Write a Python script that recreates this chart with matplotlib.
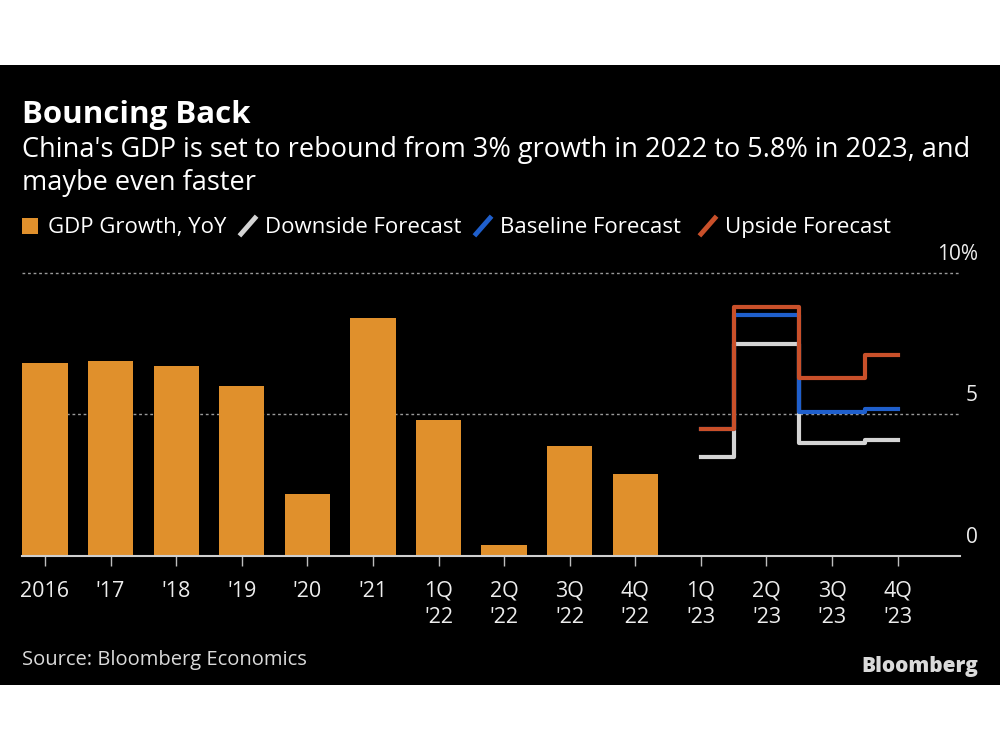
import matplotlib
matplotlib.use("Agg")
import matplotlib.pyplot as plt
from matplotlib import font_manager
from matplotlib.patches import Rectangle
from matplotlib.lines import Line2D

# pick a narrow font if there is one
names = {f.name for f in font_manager.fontManager.ttflist}
font = 'DejaVu Sans'
for cand in ['Liberation Sans Narrow', 'DejaVu Sans Condensed', 'Open Sans']:
    if cand in names:
        font = cand
        break
plt.rcParams['font.family'] = [font, 'DejaVu Sans']

# data
labels = ['2016', "'17", "'18", "'19", "'20", "'21",
          "1Q\n'22", "2Q\n'22", "3Q\n'22", "4Q\n'22",
          "1Q\n'23", "2Q\n'23", "3Q\n'23", "4Q\n'23"]
gdp = [6.8, 6.9, 6.7, 6.0, 2.2, 8.4, 4.8, 0.4, 3.9, 2.9]
fc_pos = [10, 11, 12, 13]
downside = [3.5, 7.5, 4.0, 4.1]
baseline = [4.5, 8.5, 5.1, 5.2]
upside = [4.5, 8.8, 6.3, 7.1]
yticks = [0, 5, 10]
ylabels = ['0', '5', '10%']

bar_col = '#E0902C'
down_col = '#D4D4D4'
base_col = '#1F5FCC'
up_col = '#C9502A'
txt = '#FFFFFF'

fig = plt.figure(figsize=(10, 7.5), dpi=100)
fig.patch.set_facecolor('white')
fig.patches.append(Rectangle((0, 1 - 685 / 750), 1, 620 / 750, transform=fig.transFigure,
                             facecolor='black', edgecolor='none', zorder=-10))

ax = fig.add_axes([0.022, 1 - 556 / 750, 0.938, 293 / 750])
ax.set_facecolor('none')

ax.bar(range(len(gdp)), gdp, width=0.69, color=bar_col, zorder=2)
ax.step(fc_pos, downside, where='mid', color=down_col, lw=3, zorder=3)
ax.step(fc_pos, baseline, where='mid', color=base_col, lw=3, zorder=4)
ax.step(fc_pos, upside, where='mid', color=up_col, lw=3, zorder=5)

ax.set_xlim(-0.35, 13.95)
ax.set_ylim(0, 10.35)
for s in ax.spines.values():
    s.set_visible(False)
for v in yticks[1:]:
    ax.axhline(v, color='#9A9A9A', lw=1, ls=(0, (2, 2)), zorder=1)
ax.axhline(0, color='#CFCFCF', lw=1.5, zorder=6, clip_on=False)

ax.set_yticks([])
ax.set_xticks(range(len(labels)))
ax.set_xticklabels(labels, fontsize=15.5, color='#EDEDED', linespacing=1.3, va='top')
ax.tick_params(axis='x', length=7, width=1, color='#BDBDBD', pad=11)

for v, lab in zip(yticks, ylabels):
    ax.annotate(lab, xy=(1, v), xycoords=('axes fraction', 'data'), xytext=(13, 6),
                textcoords='offset points', ha='right', va='bottom', fontsize=15, color='#EDEDED')

# titles
fig.text(0.022, 1 - 123 / 750, 'Bouncing Back', fontsize=22.5, fontweight='bold', color=txt)
fig.text(0.022, 1 - 157 / 750,
         "China's GDP is set to rebound from 3% growth in 2022 to 5.8% in 2023, and",
         fontsize=19.5, color=txt)
fig.text(0.022, 1 - 190 / 750, 'maybe even faster', fontsize=19.5, color=txt)

# legend
ly = 1 - 233 / 750
fig.patches.append(Rectangle((22 / 1000, 1 - 234 / 750), 16 / 1000, 16 / 750, transform=fig.transFigure,
                             facecolor=bar_col, edgecolor='none'))
fig.text(48 / 1000, ly, 'GDP Growth, YoY', fontsize=16, color=txt)
for x0, col, name in [(241, down_col, 'Downside Forecast'),
                      (476, base_col, 'Baseline Forecast'),
                      (701, up_col, 'Upside Forecast')]:
    fig.lines.append(Line2D([x0 / 1000, (x0 + 14) / 1000], [1 - 234 / 750, 1 - 218 / 750],
                            transform=fig.transFigure, color=col, lw=3.5))
    fig.text((x0 + 24) / 1000, ly, name, fontsize=16, color=txt)

fig.text(0.022, 1 - 665 / 750, 'Source: Bloomberg Economics', fontsize=14.5, color='#DADADA')
fig.text(0.978, 1 - 672 / 750, 'Bloomberg', fontsize=15, fontweight='heavy', color='#DADADA', ha='right')

fig.savefig('out.png', dpi=100, facecolor=fig.get_facecolor())
